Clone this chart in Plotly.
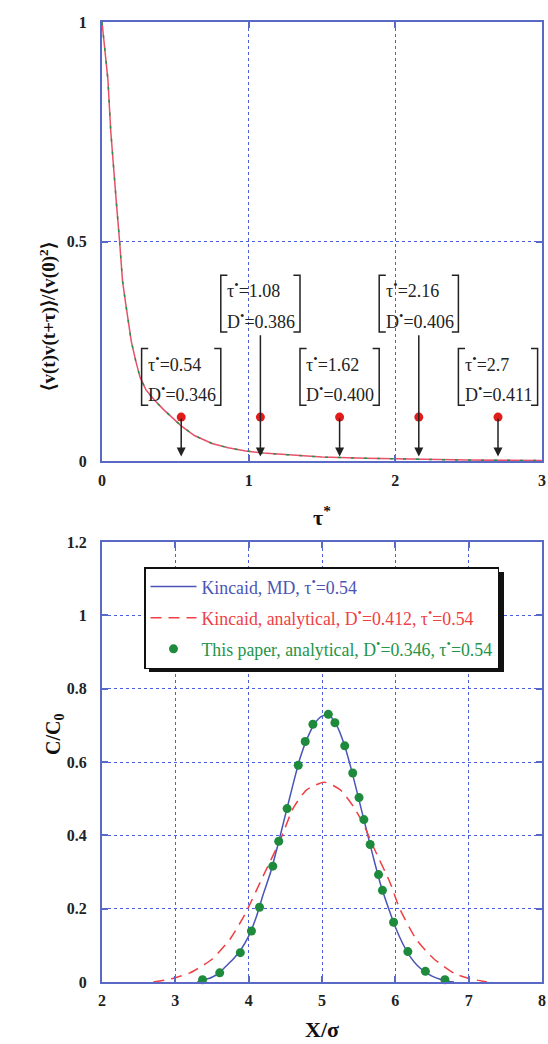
import plotly.graph_objects as go

# ---------------- data ----------------
# top panel: normalized velocity autocorrelation function
tau_vacf = [0, 0.02, 0.04, 0.06, 0.08, 0.1, 0.12, 0.14, 0.16, 0.18, 0.2, 0.23, 0.26,
            0.3, 0.36, 0.42, 0.48, 0.54, 0.63, 0.75, 0.86, 0.98, 1.1, 1.3, 1.5, 1.8,
            2.1, 2.5, 3.0]
vacf = [1.0, 0.935, 0.87, 0.75, 0.655, 0.58, 0.5, 0.41, 0.362, 0.312, 0.272, 0.228,
        0.19, 0.162, 0.138, 0.117, 0.099, 0.08, 0.058, 0.04, 0.03, 0.023, 0.018,
        0.013, 0.009, 0.006, 0.004, 0.002, 0.001]

# marked correlation times and the diffusion coefficients obtained
tau_marks = [0.54, 1.08, 1.62, 2.16, 2.7]
tau_labels = ["0.54", "1.08", "1.62", "2.16", "2.7"]
d_labels = ["0.346", "0.386", "0.400", "0.406", "0.411"]
mark_level = [0.1, 0.1, 0.1, 0.1, 0.1]

# bottom panel: concentration profiles
md_x = [3.3, 3.4, 3.5, 3.6, 3.7, 3.8, 3.9, 4.0, 4.1, 4.2, 4.3, 4.4, 4.5, 4.6, 4.7,
        4.8, 4.9, 5.0, 5.1, 5.2, 5.3, 5.4, 5.5, 5.6, 5.7, 5.8, 5.9, 6.0, 6.1, 6.2,
        6.3, 6.4, 6.5, 6.6, 6.7, 6.8]
md_c = [0.0, 0.006, 0.013, 0.025, 0.045, 0.065, 0.09, 0.125, 0.175, 0.24, 0.30,
        0.375, 0.455, 0.535, 0.61, 0.665, 0.705, 0.725, 0.727, 0.70, 0.65, 0.58,
        0.50, 0.42, 0.34, 0.265, 0.205, 0.15, 0.105, 0.07, 0.045, 0.028, 0.016,
        0.008, 0.003, 0.0]

kin_x = [2.7, 2.95, 3.2, 3.5, 3.75, 3.95, 4.2, 4.43, 4.61, 4.79, 5.03, 5.25, 5.43,
         5.56, 5.7, 5.93, 6.06, 6.29, 6.52, 6.81, 7.02, 7.25]
kin_c = [0.0, 0.009, 0.025, 0.062, 0.118, 0.185, 0.29, 0.387, 0.475, 0.524, 0.545,
         0.524, 0.478, 0.433, 0.369, 0.27, 0.2, 0.115, 0.064, 0.023, 0.009, 0.0]

paper_x = [3.371, 3.605, 3.886, 4.038, 4.148, 4.329, 4.41, 4.524, 4.676, 4.771, 4.876,
           5.086, 5.176, 5.31, 5.419, 5.505, 5.571, 5.657, 5.771, 5.824, 5.976, 6.171,
           6.41, 6.676]
paper_c = [0.006, 0.025, 0.08, 0.139, 0.204, 0.316, 0.384, 0.473, 0.591, 0.656, 0.703,
           0.73, 0.707, 0.644, 0.57, 0.503, 0.443, 0.375, 0.293, 0.25, 0.163, 0.083,
           0.029, 0.006]

# ---------------- styling ----------------
W, H = 548, 1044
SERIF = "Liberation Serif, Times New Roman, serif"
AXIS_BLUE = "#5b69c6"
GRID_BLUE = "#4a5ce0"
RED_LINE = "#e6506a"
GREEN = "#25944a"
BLUE = "#4a55b5"
RED = "#ef4045"


def px_x(p):
    return p / W


def px_y(p):
    return 1 - p / H


X_DOM = [px_x(102), px_x(542)]
TOP_DOM = [px_y(461), px_y(22)]
BOT_DOM = [px_y(982), px_y(542)]

fig = go.Figure()

# top panel curves
fig.add_trace(go.Scatter(x=tau_vacf, y=vacf, mode="lines", xaxis="x", yaxis="y",
                         line=dict(color=RED_LINE, width=1.5), showlegend=False,
                         hoverinfo="skip"))
fig.add_trace(go.Scatter(x=tau_vacf, y=vacf, mode="lines", xaxis="x", yaxis="y",
                         line=dict(color=GREEN, width=1.5, dash="3px,10px"),
                         showlegend=False, hoverinfo="skip"))
fig.add_trace(go.Scatter(x=tau_marks, y=mark_level, mode="markers", xaxis="x",
                         yaxis="y", marker=dict(color="#e21b1b", size=9),
                         showlegend=False, cliponaxis=False))

# bottom panel curves
fig.add_trace(go.Scatter(
    x=md_x, y=md_c, mode="lines", xaxis="x2", yaxis="y2",
    line=dict(color=BLUE, width=1.5, shape="spline", smoothing=0.6),
    name='<span style="color:%s">Kincaid, MD, τ<sup>•</sup>=0.54</span>' % BLUE,
    legendgroup="a"))
fig.add_trace(go.Scatter(
    x=kin_x, y=kin_c, mode="lines", xaxis="x2", yaxis="y2",
    line=dict(color=RED, width=1.5, dash="11px,7px", shape="spline", smoothing=0.6),
    name='<span style="color:%s">Kincaid, analytical, D<sup>•</sup>=0.412, '
         'τ<sup>•</sup>=0.54</span>' % RED,
    legendgroup="b"))
fig.add_trace(go.Scatter(
    x=paper_x, y=paper_c, mode="markers", xaxis="x2", yaxis="y2",
    marker=dict(color="#1d8a3c", size=9),
    name='<span style="color:%s">This paper, analytical, D<sup>•</sup>=0.346, '
         'τ<sup>•</sup>=0.54</span>' % GREEN,
    legendgroup="c", cliponaxis=False))


def axis(domain, rng, dtick, anchor, standoff):
    return dict(domain=domain, range=rng, dtick=dtick, anchor=anchor,
                automargin=False,
                showline=True, linecolor=AXIS_BLUE, linewidth=2, mirror="ticks",
                ticks="inside", ticklen=6, tickwidth=1.5, tickcolor=AXIS_BLUE,
                showgrid=True, gridcolor=GRID_BLUE, gridwidth=1, griddash="dot",
                zeroline=False, ticklabelstandoff=standoff,
                tickfont=dict(family=SERIF, size=16, color="#222", weight="bold"),
                fixedrange=True)


annotations = []
shapes = []

# brackets, labels and arrows in the top panel
HALF = 0.27
SERIF_W = 0.045
for i, t in enumerate(tau_marks):
    high = (i % 2 == 1)
    top = 0.423 if high else 0.256
    bot = 0.294 if high else 0.127
    left, right = t - HALF, t + HALF
    shapes.append(dict(type="path", xref="x", yref="y",
                       path="M %f,%f L %f,%f L %f,%f L %f,%f" % (
                           left + SERIF_W, top, left, top, left, bot,
                           left + SERIF_W, bot),
                       line=dict(color="#222", width=1.5)))
    shapes.append(dict(type="path", xref="x", yref="y",
                       path="M %f,%f L %f,%f L %f,%f L %f,%f" % (
                           right - SERIF_W, top, right, top, right, bot,
                           right - SERIF_W, bot),
                       line=dict(color="#222", width=1.5)))
    annotations.append(dict(x=left + 0.03, y=top - 0.033, xref="x", yref="y",
                            text="τ<sup>•</sup>=%s" % tau_labels[i], showarrow=False,
                            xanchor="left", yanchor="middle",
                            font=dict(family=SERIF, size=18, color="#222")))
    annotations.append(dict(x=left + 0.03, y=bot + 0.027, xref="x", yref="y",
                            text="D<sup>•</sup>=%s" % d_labels[i], showarrow=False,
                            xanchor="left", yanchor="middle",
                            font=dict(family=SERIF, size=18, color="#222")))
    start = bot - 0.004 if high else mark_level[i]
    annotations.append(dict(x=t, y=0.01, xref="x", yref="y", ax=t, ay=start,
                            axref="x", ayref="y", text="", showarrow=True,
                            arrowhead=2, arrowsize=1.2, arrowwidth=1.5,
                            arrowcolor="#222", standoff=0, startstandoff=0))

# axis titles
annotations += [
    dict(x=px_x(322), y=px_y(516), xref="paper", yref="paper", showarrow=False,
         text="<b>τ<sup>*</sup></b>", font=dict(family=SERIF, size=22, color="#111")),
    dict(x=px_x(33), y=px_y(241), xref="paper", yref="paper", showarrow=False,
         textangle=-90,
         text="<b>⟨v(t)v(t+τ)⟩/⟨v(0)<sup>2</sup>⟩</b>",
         font=dict(family=SERIF, size=19, color="#111")),
    dict(x=px_x(322), y=px_y(1044), xref="paper", yref="paper", showarrow=False,
         yanchor="bottom",
         text="<b>X/σ</b>", font=dict(family=SERIF, size=22, color="#111")),
    dict(x=px_x(40), y=px_y(757), xref="paper", yref="paper", showarrow=False,
         textangle=-90, text="<b>C/C<sub>0</sub></b>",
         font=dict(family=SERIF, size=20, color="#111")),
]

# legend shadow (drawn under the legend box)
shapes.append(dict(type="rect", xref="paper", yref="paper", layer="above",
                   x0=px_x(149), x1=px_x(504), y0=px_y(672), y1=px_y(572),
                   fillcolor="#111", line=dict(width=0)))

fig.update_layout(
    width=W, height=H, margin=dict(l=0, r=0, t=0, b=0),
    paper_bgcolor="white", plot_bgcolor="white",
    xaxis=axis(X_DOM, [0, 3], 1, "y", 4),
    yaxis=axis(TOP_DOM, [0, 1], 0.5, "x", 10),
    xaxis2=axis(X_DOM, [2, 8], 1, "y2", 3),
    yaxis2=axis(BOT_DOM, [0, 1.2], 0.2, "x2", 10),
    showlegend=True,
    legend=dict(x=px_x(144), y=px_y(567), xanchor="left", yanchor="top",
                bgcolor="white", bordercolor="#111", borderwidth=1.5,
                font=dict(family=SERIF, size=17.8), tracegroupgap=5,
                itemwidth=46),
    annotations=annotations, shapes=shapes,
)

fig.write_html("out.html")
